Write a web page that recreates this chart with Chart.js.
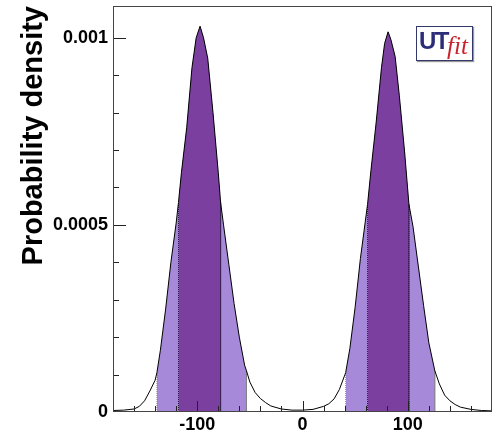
<!DOCTYPE html>
<html>
<head>
<meta charset="utf-8">
<script src="https://cdn.jsdelivr.net/npm/chart.js@4.4.0/dist/chart.umd.min.js"></script>
<style>
html, body { margin: 0; padding: 0; background: #fff; }
#wrap { position: relative; width: 500px; height: 436px; }
#logo { position: absolute; left: 416px; top: 26px; width: 55px; height: 33px; border: 1px solid #33386a; box-shadow: 1px 1px 1px #999; background: #fff; }
#logo .ut { position: absolute; left: 2px; top: 0; line-height: 1; font: bold 24px "Liberation Sans", Arial, sans-serif; color: #2b2d78; letter-spacing: -1.5px; }
#logo .fit { position: absolute; left: 30px; top: 5px; line-height: 1; font: italic 25px "Liberation Serif", serif; color: #c8232c; }
</style>
</head>
<body>
<div id="wrap">
  <canvas id="myChart" width="500" height="436"></canvas>
  <div id="logo"><span class="ut">UT</span><span class="fit">fit</span></div>
</div>
<script>
// angle (deg) and probability density
const angleValues = [
  -180, -170, -160, -155, -150, -145, -140, -138.3, -135, -130, -125, -120, -117.8, -115, -110,
  -105, -101, -97.3, -94, -90, -85, -80, -77.8, -75, -70, -65, -60, -55, -53.2, -50, -45, -40,
  -35, -30, -20, -10, 0, 10, 20, 25, 30, 35, 41, 45, 50, 55, 61.8, 65, 70, 75, 78, 81.3, 84, 88,
  92, 97, 101.1, 105, 110, 115, 120, 125.7, 130, 135, 140, 145, 150, 160, 170, 180
];
const densityValues = [
  0.000004, 0.000005, 0.000008, 0.000015, 0.000030, 0.000056, 0.000085, 0.000105, 0.000165, 0.000275, 0.000400, 0.000505, 0.000560, 0.000640, 0.000760,
  0.000920, 0.001000, 0.001031, 0.001000, 0.000945, 0.000800, 0.000640, 0.000560, 0.000500, 0.000395, 0.000290, 0.000200, 0.000125, 0.000110, 0.000080, 0.000052, 0.000036,
  0.000025, 0.000016, 0.000008, 0.000005, 0.000005, 0.000007, 0.000015, 0.000022, 0.000035, 0.000060, 0.000105, 0.000170, 0.000280, 0.000410, 0.000555, 0.000645, 0.000775, 0.000920, 0.000985, 0.001016, 0.000995, 0.000950,
  0.000845, 0.000695, 0.000555, 0.000495, 0.000390, 0.000285, 0.000185, 0.000110, 0.000075, 0.000045, 0.000030, 0.000020, 0.000013, 0.000007, 0.000004, 0.000003
];
// 68% and 95% probability ranges
const band68 = [[-117.8, -77.8], [61.8, 101.1]];
const band95 = [[-138.3, -53.2], [41, 125.7]];
const xTickLabels = [-100, 0, 100];
const yTickLabels = [0, 0.0005, 0.001];

const curve = angleValues.map((x, i) => ({x: x, y: densityValues[i]}));

function bandData(lo, hi) {
  const pts = curve.filter(p => p.x >= lo && p.x <= hi);
  return [{x: lo, y: 0}].concat(pts, [{x: hi, y: 0}]);
}

function bandSet(range, color, edge, order) {
  const vertical = c => c.p0.parsed.x === c.p1.parsed.x;
  return {
    data: bandData(range[0], range[1]),
    backgroundColor: color,
    fill: 'origin',
    borderWidth: 1,
    borderColor: 'transparent',
    pointRadius: 0,
    tension: 0,
    order: order,
    segment: {
      borderColor: c => vertical(c) ? edge : 'transparent',
      borderDash: c => vertical(c) ? [1, 1] : []
    }
  };
}

const datasets = [
  {data: curve, borderColor: '#000', borderWidth: 1, pointRadius: 0, fill: false, tension: 0, order: 0}
];
band68.forEach(r => datasets.push(bandSet(r, '#7b3f9f', '#2a1640', 1)));
band95.forEach(r => datasets.push(bandSet(r, '#a68ad9', 'rgba(110,110,110,0.8)', 2)));

const insideTicks = {
  id: 'insideTicks',
  afterDatasetsDraw(chart) {
    const {ctx, chartArea: {left, right, top, bottom}, scales: {x, y}} = chart;
    ctx.save();
    ctx.strokeStyle = '#222';
    ctx.lineWidth = 1;
    ctx.beginPath();
    x.ticks.forEach(t => {
      const px = Math.round(x.getPixelForValue(t.value)) + 0.5;
      if (px <= left + 1 || px >= right - 1) return;
      const len = Math.round(t.value) % 100 === 0 ? 11 : 6;
      ctx.moveTo(px, bottom); ctx.lineTo(px, bottom - len);
    });
    y.ticks.forEach(t => {
      const py = Math.round(y.getPixelForValue(t.value)) + 0.5;
      if (py <= top + 1 || py >= bottom - 1) return;
      const major = Math.round(t.value * 1e4) % 5 === 0;
      ctx.moveTo(left, py); ctx.lineTo(left + (major ? 13 : 6), py);
    });
    ctx.stroke();
    ctx.strokeStyle = '#444';
    ctx.strokeRect(left + 0.5, top + 0.5, right - left - 1, bottom - top - 1);
    ctx.restore();
  }
};

const font = {family: 'Liberation Sans', weight: 'bold', size: 18};

const config = {
  type: 'line',
  data: {datasets: datasets},
  options: {
    responsive: false,
    animation: false,
    devicePixelRatio: 1,
    layout: {padding: {top: 6, right: 8, left: 0, bottom: 0}},
    plugins: {legend: {display: false}, tooltip: {enabled: false}},
    scales: {
      x: {
        type: 'linear', min: -180, max: 180,
        afterFit: s => { s.height = 24; s.paddingLeft = 0; s.paddingRight = 0; },
        grid: {display: false, drawTicks: false},
        border: {display: false},
        ticks: {
          stepSize: 20, autoSkip: false, maxRotation: 0, padding: 2, color: '#000', font: font,
          callback: v => xTickLabels.includes(Math.round(v)) ? String(Math.round(v)) : ''
        }
      },
      y: {
        min: 0, max: 0.001085,
        afterBuildTicks: s => { s.ticks = s.ticks.filter(t => Math.abs(t.value * 1e4 - Math.round(t.value * 1e4)) < 1e-6); },
        afterFit: s => { s.width = 113; s.paddingTop = 0; s.paddingBottom = 0; },
        grid: {display: false, drawTicks: false},
        border: {display: false},
        ticks: {
          stepSize: 0.0001, padding: 5, color: '#000', font: font,
          callback: v => { const r = +v.toFixed(4); return yTickLabels.includes(r) ? String(r) : ''; }
        },
        title: {
          display: true, text: 'Probability density', align: 'end', color: '#000',
          padding: {top: 17, bottom: 0},
          font: {family: 'Liberation Sans', weight: 'bold', size: 29}
        }
      }
    }
  },
  plugins: [insideTicks]
};

const myChart = new Chart(document.getElementById('myChart'), config);
</script>
</body>
</html>
